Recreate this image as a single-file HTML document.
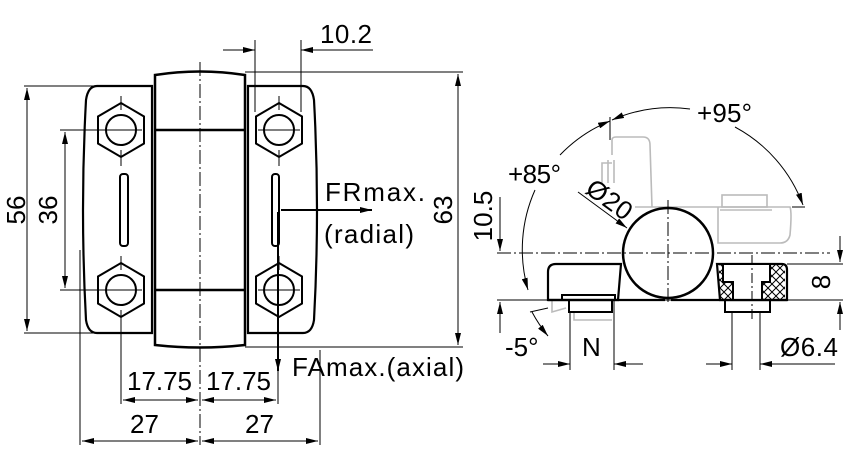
<!DOCTYPE html>
<html><head><meta charset="utf-8"><style>
html,body{margin:0;padding:0;background:#fff}
svg{display:block}
text{font-family:"Liberation Sans",sans-serif;fill:#000}
</style></head><body>
<svg width="854" height="472" viewBox="0 0 854 472" xmlns="http://www.w3.org/2000/svg">
<defs>
<marker id="a" viewBox="0 0 12 6" refX="12" refY="3" markerWidth="12" markerHeight="6" orient="auto-start-reverse" markerUnits="userSpaceOnUse"><path d="M0,0 L12,3 L0,6z" fill="#000"/></marker>
<pattern id="x" width="8" height="8" patternUnits="userSpaceOnUse"><path d="M0,0L8,8M8,0L0,8" stroke="#000" stroke-width="1"/></pattern>
</defs>
<g fill="none" stroke="#000">
<!-- left view -->
<path d="M97,86 H152 V333 H97 Q88,333 86,320 Q80,210 86,100 Q88,86 97,86Z" stroke-width="2.2"/>
<path d="M248,86 H303 Q312,86 314,100 Q320,210 314,320 Q312,333 303,333 H248Z" stroke-width="2.2"/>
<path d="M155,75 Q200,68 245,75 V345 Q200,350 155,345Z" stroke-width="2.5"/>
<path d="M155,130H245M155,290H245" stroke-width="2.5"/>
<g stroke-width="2">
<polygon points="121,103 144,116.5 144,143.5 121,157 98,143.5 98,116.5"/>
<polygon points="121,263 144,276.5 144,303.5 121,317 98,303.5 98,276.5"/>
<polygon points="279,103 302,116.5 302,143.5 279,157 256,143.5 256,116.5"/>
<polygon points="279,263 302,276.5 302,303.5 279,317 256,303.5 256,276.5"/>
<circle cx="121" cy="130" r="15"/><circle cx="121" cy="290" r="15"/>
<circle cx="279" cy="130" r="15"/><circle cx="279" cy="290" r="15"/>
<rect x="120" y="174" width="8" height="72" rx="3"/>
<rect x="272" y="174" width="7" height="72" rx="3"/>
</g>
<g stroke-width="1">
<path d="M200,62V445" stroke-dasharray="14,3,2,3"/>
<path d="M121,96V110M121,150V166M121,256V270M121,310V404M279,96V110M279,150V166M279,256V270M100,130H142M100,290H142M258,130H300M258,290H300"/>
<path d="M24,86H97M24,333H97"/><path d="M27,88V331" marker-start="url(#a)" marker-end="url(#a)"/>
<path d="M60,130H100M60,290H100"/><path d="M65,132V288" marker-start="url(#a)" marker-end="url(#a)"/>
<path d="M245,72H463M245,347H463"/><path d="M458,74V345" marker-start="url(#a)" marker-end="url(#a)"/>
<path d="M255,40V112M301,40V112"/><path d="M223,50H255M301,50H373"/>
<path d="M240,50H255" marker-end="url(#a)"/><path d="M316,50H301" marker-end="url(#a)"/>
<path d="M278,330V404"/><path d="M123,400H198" marker-start="url(#a)" marker-end="url(#a)"/><path d="M202,400H276" marker-start="url(#a)" marker-end="url(#a)"/>
<path d="M80,250V445M320,350V445"/><path d="M82,441H198" marker-start="url(#a)" marker-end="url(#a)"/><path d="M202,441H318" marker-start="url(#a)" marker-end="url(#a)"/>
</g>
<path d="M281,210H372" stroke-width="2" marker-end="url(#a)"/>
<path d="M278,212V371" stroke-width="2" marker-end="url(#a)"/>

<!-- right view gray -->
<g stroke="#bbb" stroke-width="1.6">
<path d="M612,155 V140 Q612,137 616,137 H643 Q650,137 650,145 L652,207"/>
<path d="M602,183V163H612M608,183V160M614,183V160"/>
<path d="M635,207H790 Q792,212 790,235 Q788,243 780,243 H718 V207"/>
<rect x="722" y="195" width="45" height="12"/><path d="M720,210H772"/>
<path d="M552,300V312L566,308M574,312V320H612"/>
</g>
<!-- right view black -->
<path d="M548,300 V272 Q548,264 556,264 H621 L618,300Z" stroke-width="2.2"/>
<path d="M717,264 H782 Q787,264 787,270 V300 H720Z" stroke-width="2.2"/>
<rect x="719" y="265" width="66" height="34" fill="url(#x)" stroke="none"/>
<path d="M723,264V282H733V300H762V282H770V264Z" fill="#fff" stroke-width="2"/>
<circle cx="668" cy="253" r="45" fill="#fff" stroke-width="2.5"/>
<path d="M562,300V295H615V300M569,300V312H612V300M725,300V312H770V300" stroke-width="2"/>
<path d="M548,300H665M671,300H787" stroke-width="2.2"/>
<g stroke-width="1">
<path d="M497,253H830M668,200V305" stroke-dasharray="14,3,2,3"/>
<path d="M497,300H843M787,264H843"/>
<path d="M500,197V251" marker-end="url(#a)"/><path d="M500,333V302" marker-end="url(#a)"/>
<path d="M840,236V262" marker-end="url(#a)"/><path d="M840,330V302" marker-end="url(#a)"/>
<path d="M578,192L627,228" marker-end="url(#a)"/>
<path d="M610,117V140"/>
<path d="M690,109 A146,146 0 0 0 612,120" marker-end="url(#a)"/>
<path d="M735,127 A146,146 0 0 1 803,205" marker-end="url(#a)"/><path d="M792,207H805"/>
<path d="M560,155 A146,146 0 0 1 610,121" marker-end="url(#a)"/>
<path d="M535,190 A146,146 0 0 0 528,290" marker-end="url(#a)"/>
<path d="M532,312 A146,146 0 0 0 548,336" marker-end="url(#a)"/><path d="M530,312L548,308"/>
<path d="M570,312V370M614,300V370"/>
<path d="M543,364H570" marker-end="url(#a)"/><path d="M643,364H614" marker-end="url(#a)"/>
<path d="M732,312V370M760,312V370M760,364H835"/>
<path d="M706,364H732" marker-end="url(#a)"/><path d="M778,364H760" marker-end="url(#a)"/>
<path d="M752,255V320" stroke-dasharray="10,3,2,3"/>
</g>
</g>
<g font-size="26">
<text x="25" y="210" transform="rotate(-90 25 210)" text-anchor="middle">56</text>
<text x="57" y="210" transform="rotate(-90 57 210)" text-anchor="middle">36</text>
<text x="452" y="210" transform="rotate(-90 452 210)" text-anchor="middle">63</text>
<text x="320" y="43" textLength="52">10.2</text>
<text x="325" y="201" textLength="100">FRmax.</text>
<text x="324" y="243" textLength="90">(radial)</text>
<text x="292" y="376" textLength="172">FAmax.(axial)</text>
<text x="127" y="390" textLength="65">17.75</text>
<text x="206" y="390" textLength="65">17.75</text>
<text x="130" y="433">27</text>
<text x="245" y="433">27</text>
<text x="697" y="122" textLength="55">+95°</text>
<text x="508" y="183" textLength="53">+85°</text>
<text x="584" y="192" transform="rotate(36 584 192)" textLength="50">Ø20</text>
<text x="492" y="216" transform="rotate(-90 492 216)" text-anchor="middle">10.5</text>
<text x="830" y="282" transform="rotate(-90 830 282)" text-anchor="middle">8</text>
<text x="505" y="356">-5°</text>
<text x="582" y="356">N</text>
<text x="780" y="356" textLength="58">Ø6.4</text>
</g>
</svg>
</body></html>
